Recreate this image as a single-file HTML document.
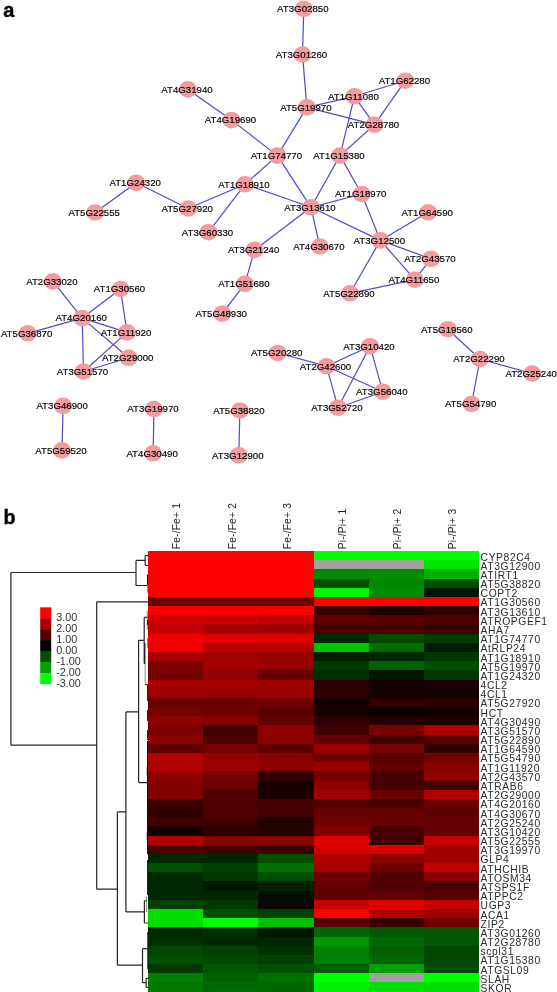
<!DOCTYPE html><html><head><meta charset="utf-8"><style>html,body{margin:0;padding:0;background:#fff;}svg{display:block;will-change:transform;}text{font-family:"Liberation Sans",sans-serif;}</style></head><body>
<svg width="557" height="992" viewBox="0 0 557 992">
<rect width="557" height="992" fill="#fff"/>
<text x="3.2" y="16.6" font-size="20" font-weight="bold" fill="#000" stroke="#000" stroke-width="0.35">a</text>
<text x="3.6" y="523.6" font-size="19.6" font-weight="bold" fill="#000" stroke="#000" stroke-width="0.35">b</text>
<g stroke="#5048cc" stroke-width="1.2" fill="none">
<line x1="303.8" y1="8.8" x2="302.5" y2="54.5"/>
<line x1="302.5" y1="54.5" x2="306.9" y2="107.4"/>
<line x1="306.9" y1="107.4" x2="354.4" y2="96.3"/>
<line x1="306.9" y1="107.4" x2="374.5" y2="124.7"/>
<line x1="306.9" y1="107.4" x2="277.4" y2="155.6"/>
<line x1="354.4" y1="96.3" x2="405.4" y2="80.7"/>
<line x1="354.4" y1="96.3" x2="374.5" y2="124.7"/>
<line x1="354.4" y1="96.3" x2="340" y2="155.6"/>
<line x1="405.4" y1="80.7" x2="374.5" y2="124.7"/>
<line x1="374.5" y1="124.7" x2="340" y2="155.6"/>
<line x1="188" y1="89.4" x2="231.5" y2="120.1"/>
<line x1="231.5" y1="120.1" x2="277.4" y2="155.6"/>
<line x1="277.4" y1="155.6" x2="245" y2="184.3"/>
<line x1="277.4" y1="155.6" x2="311" y2="207.3"/>
<line x1="340" y1="155.6" x2="311" y2="207.3"/>
<line x1="340" y1="155.6" x2="361.7" y2="194"/>
<line x1="245" y1="184.3" x2="311" y2="207.3"/>
<line x1="245" y1="184.3" x2="188.2" y2="208.5"/>
<line x1="245" y1="184.3" x2="208.5" y2="232.2"/>
<line x1="136.2" y1="182.8" x2="95.2" y2="212.5"/>
<line x1="136.2" y1="182.8" x2="188.2" y2="208.5"/>
<line x1="361.7" y1="194" x2="311" y2="207.3"/>
<line x1="361.7" y1="194" x2="380.3" y2="240.4"/>
<line x1="311" y1="207.3" x2="380.3" y2="240.4"/>
<line x1="311" y1="207.3" x2="319.9" y2="246.5"/>
<line x1="311" y1="207.3" x2="254.6" y2="249.9"/>
<line x1="380.3" y1="240.4" x2="428.2" y2="212.3"/>
<line x1="380.3" y1="240.4" x2="431" y2="258.8"/>
<line x1="380.3" y1="240.4" x2="414.9" y2="279.7"/>
<line x1="380.3" y1="240.4" x2="350" y2="293.3"/>
<line x1="431" y1="258.8" x2="414.9" y2="279.7"/>
<line x1="414.9" y1="279.7" x2="350" y2="293.3"/>
<line x1="254.6" y1="249.9" x2="244.9" y2="283.8"/>
<line x1="244.9" y1="283.8" x2="222.2" y2="313.6"/>
<line x1="52.9" y1="281.4" x2="82.2" y2="318.1"/>
<line x1="120.5" y1="289" x2="82.2" y2="318.1"/>
<line x1="120.5" y1="289" x2="127" y2="332.4"/>
<line x1="27.6" y1="333.3" x2="82.2" y2="318.1"/>
<line x1="82.2" y1="318.1" x2="127" y2="332.4"/>
<line x1="82.2" y1="318.1" x2="128.7" y2="357.8"/>
<line x1="82.2" y1="318.1" x2="83.5" y2="371.5"/>
<line x1="127" y1="332.4" x2="83.5" y2="371.5"/>
<line x1="128.7" y1="357.8" x2="83.5" y2="371.5"/>
<line x1="277.7" y1="353" x2="326.5" y2="366.2"/>
<line x1="326.5" y1="366.2" x2="370" y2="346.2"/>
<line x1="326.5" y1="366.2" x2="382.8" y2="391.7"/>
<line x1="326.5" y1="366.2" x2="338" y2="407.7"/>
<line x1="370" y1="346.2" x2="382.8" y2="391.7"/>
<line x1="370" y1="346.2" x2="338" y2="407.7"/>
<line x1="382.8" y1="391.7" x2="338" y2="407.7"/>
<line x1="447.8" y1="329.2" x2="480" y2="359"/>
<line x1="480" y1="359" x2="532.2" y2="373.5"/>
<line x1="480" y1="359" x2="471.6" y2="404"/>
<line x1="63.1" y1="405.9" x2="62" y2="450.4"/>
<line x1="154" y1="409" x2="153.1" y2="453.3"/>
<line x1="239.9" y1="410.5" x2="238.8" y2="455.4"/>
</g>
<g fill="#f39ca0">
<ellipse cx="303.8" cy="8.8" rx="9" ry="8.3"/>
<ellipse cx="302.5" cy="54.5" rx="9" ry="8.3"/>
<ellipse cx="405.4" cy="80.7" rx="9" ry="8.3"/>
<ellipse cx="188" cy="89.4" rx="9" ry="8.3"/>
<ellipse cx="354.4" cy="96.3" rx="9" ry="8.3"/>
<ellipse cx="306.9" cy="107.4" rx="9" ry="8.3"/>
<ellipse cx="374.5" cy="124.7" rx="9" ry="8.3"/>
<ellipse cx="231.5" cy="120.1" rx="9" ry="8.3"/>
<ellipse cx="277.4" cy="155.6" rx="9" ry="8.3"/>
<ellipse cx="340" cy="155.6" rx="9" ry="8.3"/>
<ellipse cx="136.2" cy="182.8" rx="9" ry="8.3"/>
<ellipse cx="245" cy="184.3" rx="9" ry="8.3"/>
<ellipse cx="361.7" cy="194" rx="9" ry="8.3"/>
<ellipse cx="95.2" cy="212.5" rx="9" ry="8.3"/>
<ellipse cx="188.2" cy="208.5" rx="9" ry="8.3"/>
<ellipse cx="311" cy="207.3" rx="9" ry="8.3"/>
<ellipse cx="428.2" cy="212.3" rx="9" ry="8.3"/>
<ellipse cx="208.5" cy="232.2" rx="9" ry="8.3"/>
<ellipse cx="254.6" cy="249.9" rx="9" ry="8.3"/>
<ellipse cx="319.9" cy="246.5" rx="9" ry="8.3"/>
<ellipse cx="380.3" cy="240.4" rx="9" ry="8.3"/>
<ellipse cx="431" cy="258.8" rx="9" ry="8.3"/>
<ellipse cx="414.9" cy="279.7" rx="9" ry="8.3"/>
<ellipse cx="244.9" cy="283.8" rx="9" ry="8.3"/>
<ellipse cx="350" cy="293.3" rx="9" ry="8.3"/>
<ellipse cx="222.2" cy="313.6" rx="9" ry="8.3"/>
<ellipse cx="52.9" cy="281.4" rx="9" ry="8.3"/>
<ellipse cx="120.5" cy="289" rx="9" ry="8.3"/>
<ellipse cx="82.2" cy="318.1" rx="9" ry="8.3"/>
<ellipse cx="27.6" cy="333.3" rx="9" ry="8.3"/>
<ellipse cx="127" cy="332.4" rx="9" ry="8.3"/>
<ellipse cx="128.7" cy="357.8" rx="9" ry="8.3"/>
<ellipse cx="83.5" cy="371.5" rx="9" ry="8.3"/>
<ellipse cx="277.7" cy="353" rx="9" ry="8.3"/>
<ellipse cx="326.5" cy="366.2" rx="9" ry="8.3"/>
<ellipse cx="370" cy="346.2" rx="9" ry="8.3"/>
<ellipse cx="382.8" cy="391.7" rx="9" ry="8.3"/>
<ellipse cx="338" cy="407.7" rx="9" ry="8.3"/>
<ellipse cx="447.8" cy="329.2" rx="9" ry="8.3"/>
<ellipse cx="480" cy="359" rx="9" ry="8.3"/>
<ellipse cx="532.2" cy="373.5" rx="9" ry="8.3"/>
<ellipse cx="471.6" cy="404" rx="9" ry="8.3"/>
<ellipse cx="63.1" cy="405.9" rx="9" ry="8.3"/>
<ellipse cx="62" cy="450.4" rx="9" ry="8.3"/>
<ellipse cx="154" cy="409" rx="9" ry="8.3"/>
<ellipse cx="153.1" cy="453.3" rx="9" ry="8.3"/>
<ellipse cx="239.9" cy="410.5" rx="9" ry="8.3"/>
<ellipse cx="238.8" cy="455.4" rx="9" ry="8.3"/>
</g>
<g font-size="9.4" fill="#000" stroke="#000" stroke-width="0.15" text-anchor="middle">
<text transform="translate(302.8,12.1) scale(1.03,1)">AT3G02850</text>
<text transform="translate(301.5,57.8) scale(1.03,1)">AT3G01260</text>
<text transform="translate(404.4,84.0) scale(1.03,1)">AT1G62280</text>
<text transform="translate(187.0,92.7) scale(1.03,1)">AT4G31940</text>
<text transform="translate(353.4,99.6) scale(1.03,1)">AT1G11080</text>
<text transform="translate(305.9,110.7) scale(1.03,1)">AT5G19970</text>
<text transform="translate(373.5,128.0) scale(1.03,1)">AT2G28780</text>
<text transform="translate(230.5,123.4) scale(1.03,1)">AT4G19690</text>
<text transform="translate(276.4,158.9) scale(1.03,1)">AT1G74770</text>
<text transform="translate(339.0,158.9) scale(1.03,1)">AT1G15380</text>
<text transform="translate(135.2,186.1) scale(1.03,1)">AT1G24320</text>
<text transform="translate(244.0,187.6) scale(1.03,1)">AT1G18910</text>
<text transform="translate(360.7,197.3) scale(1.03,1)">AT1G18970</text>
<text transform="translate(94.2,215.8) scale(1.03,1)">AT5G22555</text>
<text transform="translate(187.2,211.8) scale(1.03,1)">AT5G27920</text>
<text transform="translate(310.0,210.6) scale(1.03,1)">AT3G13610</text>
<text transform="translate(427.2,215.6) scale(1.03,1)">AT1G64590</text>
<text transform="translate(207.5,235.5) scale(1.03,1)">AT3G60330</text>
<text transform="translate(253.6,253.2) scale(1.03,1)">AT3G21240</text>
<text transform="translate(318.9,249.8) scale(1.03,1)">AT4G30670</text>
<text transform="translate(379.3,243.7) scale(1.03,1)">AT3G12500</text>
<text transform="translate(430.0,262.1) scale(1.03,1)">AT2G43570</text>
<text transform="translate(413.9,283.0) scale(1.03,1)">AT4G11650</text>
<text transform="translate(243.9,287.1) scale(1.03,1)">AT1G51680</text>
<text transform="translate(349.0,296.6) scale(1.03,1)">AT5G22890</text>
<text transform="translate(221.2,316.9) scale(1.03,1)">AT5G48930</text>
<text transform="translate(51.9,284.7) scale(1.03,1)">AT2G33020</text>
<text transform="translate(119.5,292.3) scale(1.03,1)">AT1G30560</text>
<text transform="translate(81.2,321.4) scale(1.03,1)">AT4G20160</text>
<text transform="translate(26.6,336.6) scale(1.03,1)">AT5G36870</text>
<text transform="translate(126.0,335.7) scale(1.03,1)">AT1G11920</text>
<text transform="translate(127.7,361.1) scale(1.03,1)">AT2G29000</text>
<text transform="translate(82.5,374.8) scale(1.03,1)">AT3G51570</text>
<text transform="translate(276.7,356.3) scale(1.03,1)">AT5G20280</text>
<text transform="translate(325.5,369.5) scale(1.03,1)">AT2G42600</text>
<text transform="translate(369.0,349.5) scale(1.03,1)">AT3G10420</text>
<text transform="translate(381.8,395.0) scale(1.03,1)">AT3G56040</text>
<text transform="translate(337.0,411.0) scale(1.03,1)">AT3G52720</text>
<text transform="translate(446.8,332.5) scale(1.03,1)">AT5G19560</text>
<text transform="translate(479.0,362.3) scale(1.03,1)">AT2G22290</text>
<text transform="translate(531.2,376.8) scale(1.03,1)">AT2G25240</text>
<text transform="translate(470.6,407.3) scale(1.03,1)">AT5G54790</text>
<text transform="translate(62.1,409.2) scale(1.03,1)">AT3G46900</text>
<text transform="translate(61.0,453.7) scale(1.03,1)">AT5G59520</text>
<text transform="translate(153.0,412.3) scale(1.03,1)">AT3G19970</text>
<text transform="translate(152.1,456.6) scale(1.03,1)">AT4G30490</text>
<text transform="translate(238.9,413.8) scale(1.03,1)">AT5G38820</text>
<text transform="translate(237.8,458.7) scale(1.03,1)">AT3G12900</text>
</g>
<g shape-rendering="crispEdges">
<rect x="148.00" y="551.00" width="55.47" height="9.48" fill="#ff0000"/>
<rect x="203.17" y="551.00" width="55.47" height="9.48" fill="#ff0000"/>
<rect x="258.33" y="551.00" width="55.47" height="9.48" fill="#ff0000"/>
<rect x="313.50" y="551.00" width="55.47" height="9.48" fill="#00ff00"/>
<rect x="368.67" y="551.00" width="55.47" height="9.48" fill="#00ff00"/>
<rect x="423.83" y="551.00" width="55.47" height="9.48" fill="#00ff00"/>
<rect x="148.00" y="560.18" width="55.47" height="9.48" fill="#ff0000"/>
<rect x="203.17" y="560.18" width="55.47" height="9.48" fill="#ff0000"/>
<rect x="258.33" y="560.18" width="55.47" height="9.48" fill="#ff0000"/>
<rect x="313.50" y="560.18" width="55.47" height="9.48" fill="#a0a0a0"/>
<rect x="368.67" y="560.18" width="55.47" height="9.48" fill="#a0a0a0"/>
<rect x="423.83" y="560.18" width="55.47" height="9.48" fill="#00e400"/>
<rect x="148.00" y="569.36" width="55.47" height="9.48" fill="#ff0000"/>
<rect x="203.17" y="569.36" width="55.47" height="9.48" fill="#ff0000"/>
<rect x="258.33" y="569.36" width="55.47" height="9.48" fill="#ff0000"/>
<rect x="313.50" y="569.36" width="55.47" height="9.48" fill="#008800"/>
<rect x="368.67" y="569.36" width="55.47" height="9.48" fill="#008c00"/>
<rect x="423.83" y="569.36" width="55.47" height="9.48" fill="#00b000"/>
<rect x="148.00" y="578.54" width="55.47" height="9.48" fill="#ff0000"/>
<rect x="203.17" y="578.54" width="55.47" height="9.48" fill="#ff0000"/>
<rect x="258.33" y="578.54" width="55.47" height="9.48" fill="#ff0000"/>
<rect x="313.50" y="578.54" width="55.47" height="9.48" fill="#005000"/>
<rect x="368.67" y="578.54" width="55.47" height="9.48" fill="#008800"/>
<rect x="423.83" y="578.54" width="55.47" height="9.48" fill="#005000"/>
<rect x="148.00" y="587.72" width="55.47" height="9.48" fill="#ff0000"/>
<rect x="203.17" y="587.72" width="55.47" height="9.48" fill="#ff0000"/>
<rect x="258.33" y="587.72" width="55.47" height="9.48" fill="#ff0000"/>
<rect x="313.50" y="587.72" width="55.47" height="9.48" fill="#00f800"/>
<rect x="368.67" y="587.72" width="55.47" height="9.48" fill="#008c00"/>
<rect x="423.83" y="587.72" width="55.47" height="9.48" fill="#001800"/>
<rect x="148.00" y="596.90" width="55.47" height="9.48" fill="#6e0000"/>
<rect x="203.17" y="596.90" width="55.47" height="9.48" fill="#6e0000"/>
<rect x="258.33" y="596.90" width="55.47" height="9.48" fill="#6e0000"/>
<rect x="313.50" y="596.90" width="55.47" height="9.48" fill="#ff0000"/>
<rect x="368.67" y="596.90" width="55.47" height="9.48" fill="#ff0000"/>
<rect x="423.83" y="596.90" width="55.47" height="9.48" fill="#ff0000"/>
<rect x="148.00" y="606.08" width="55.47" height="9.48" fill="#fa0000"/>
<rect x="203.17" y="606.08" width="55.47" height="9.48" fill="#fa0000"/>
<rect x="258.33" y="606.08" width="55.47" height="9.48" fill="#fa0000"/>
<rect x="313.50" y="606.08" width="55.47" height="9.48" fill="#380000"/>
<rect x="368.67" y="606.08" width="55.47" height="9.48" fill="#200000"/>
<rect x="423.83" y="606.08" width="55.47" height="9.48" fill="#300000"/>
<rect x="148.00" y="615.26" width="55.47" height="9.48" fill="#d00000"/>
<rect x="203.17" y="615.26" width="55.47" height="9.48" fill="#cc0000"/>
<rect x="258.33" y="615.26" width="55.47" height="9.48" fill="#c00000"/>
<rect x="313.50" y="615.26" width="55.47" height="9.48" fill="#600000"/>
<rect x="368.67" y="615.26" width="55.47" height="9.48" fill="#580000"/>
<rect x="423.83" y="615.26" width="55.47" height="9.48" fill="#4c0000"/>
<rect x="148.00" y="624.44" width="55.47" height="9.48" fill="#c00000"/>
<rect x="203.17" y="624.44" width="55.47" height="9.48" fill="#a80000"/>
<rect x="258.33" y="624.44" width="55.47" height="9.48" fill="#a00000"/>
<rect x="313.50" y="624.44" width="55.47" height="9.48" fill="#480000"/>
<rect x="368.67" y="624.44" width="55.47" height="9.48" fill="#480000"/>
<rect x="423.83" y="624.44" width="55.47" height="9.48" fill="#380000"/>
<rect x="148.00" y="633.62" width="55.47" height="9.48" fill="#f20000"/>
<rect x="203.17" y="633.62" width="55.47" height="9.48" fill="#e40000"/>
<rect x="258.33" y="633.62" width="55.47" height="9.48" fill="#e00000"/>
<rect x="313.50" y="633.62" width="55.47" height="9.48" fill="#002800"/>
<rect x="368.67" y="633.62" width="55.47" height="9.48" fill="#004a00"/>
<rect x="423.83" y="633.62" width="55.47" height="9.48" fill="#003c00"/>
<rect x="148.00" y="642.80" width="55.47" height="9.48" fill="#f00000"/>
<rect x="203.17" y="642.80" width="55.47" height="9.48" fill="#b80000"/>
<rect x="258.33" y="642.80" width="55.47" height="9.48" fill="#b80000"/>
<rect x="313.50" y="642.80" width="55.47" height="9.48" fill="#00c400"/>
<rect x="368.67" y="642.80" width="55.47" height="9.48" fill="#006c00"/>
<rect x="423.83" y="642.80" width="55.47" height="9.48" fill="#001c00"/>
<rect x="148.00" y="651.98" width="55.47" height="9.48" fill="#a80000"/>
<rect x="203.17" y="651.98" width="55.47" height="9.48" fill="#a00000"/>
<rect x="258.33" y="651.98" width="55.47" height="9.48" fill="#980000"/>
<rect x="313.50" y="651.98" width="55.47" height="9.48" fill="#002000"/>
<rect x="368.67" y="651.98" width="55.47" height="9.48" fill="#002800"/>
<rect x="423.83" y="651.98" width="55.47" height="9.48" fill="#003800"/>
<rect x="148.00" y="661.16" width="55.47" height="9.48" fill="#780000"/>
<rect x="203.17" y="661.16" width="55.47" height="9.48" fill="#a40000"/>
<rect x="258.33" y="661.16" width="55.47" height="9.48" fill="#980000"/>
<rect x="313.50" y="661.16" width="55.47" height="9.48" fill="#003800"/>
<rect x="368.67" y="661.16" width="55.47" height="9.48" fill="#006000"/>
<rect x="423.83" y="661.16" width="55.47" height="9.48" fill="#005000"/>
<rect x="148.00" y="670.34" width="55.47" height="9.48" fill="#740000"/>
<rect x="203.17" y="670.34" width="55.47" height="9.48" fill="#940000"/>
<rect x="258.33" y="670.34" width="55.47" height="9.48" fill="#680000"/>
<rect x="313.50" y="670.34" width="55.47" height="9.48" fill="#003000"/>
<rect x="368.67" y="670.34" width="55.47" height="9.48" fill="#001800"/>
<rect x="423.83" y="670.34" width="55.47" height="9.48" fill="#003800"/>
<rect x="148.00" y="679.52" width="55.47" height="9.48" fill="#a80000"/>
<rect x="203.17" y="679.52" width="55.47" height="9.48" fill="#a40000"/>
<rect x="258.33" y="679.52" width="55.47" height="9.48" fill="#a00000"/>
<rect x="313.50" y="679.52" width="55.47" height="9.48" fill="#2a0000"/>
<rect x="368.67" y="679.52" width="55.47" height="9.48" fill="#140000"/>
<rect x="423.83" y="679.52" width="55.47" height="9.48" fill="#1a0000"/>
<rect x="148.00" y="688.70" width="55.47" height="9.48" fill="#9c0000"/>
<rect x="203.17" y="688.70" width="55.47" height="9.48" fill="#940000"/>
<rect x="258.33" y="688.70" width="55.47" height="9.48" fill="#980000"/>
<rect x="313.50" y="688.70" width="55.47" height="9.48" fill="#2a0000"/>
<rect x="368.67" y="688.70" width="55.47" height="9.48" fill="#140000"/>
<rect x="423.83" y="688.70" width="55.47" height="9.48" fill="#140000"/>
<rect x="148.00" y="697.88" width="55.47" height="9.48" fill="#680000"/>
<rect x="203.17" y="697.88" width="55.47" height="9.48" fill="#6c0000"/>
<rect x="258.33" y="697.88" width="55.47" height="9.48" fill="#700000"/>
<rect x="313.50" y="697.88" width="55.47" height="9.48" fill="#140000"/>
<rect x="368.67" y="697.88" width="55.47" height="9.48" fill="#300000"/>
<rect x="423.83" y="697.88" width="55.47" height="9.48" fill="#280000"/>
<rect x="148.00" y="707.06" width="55.47" height="9.48" fill="#740000"/>
<rect x="203.17" y="707.06" width="55.47" height="9.48" fill="#6c0000"/>
<rect x="258.33" y="707.06" width="55.47" height="9.48" fill="#580000"/>
<rect x="313.50" y="707.06" width="55.47" height="9.48" fill="#140000"/>
<rect x="368.67" y="707.06" width="55.47" height="9.48" fill="#100000"/>
<rect x="423.83" y="707.06" width="55.47" height="9.48" fill="#100000"/>
<rect x="148.00" y="716.24" width="55.47" height="9.48" fill="#8c0000"/>
<rect x="203.17" y="716.24" width="55.47" height="9.48" fill="#880000"/>
<rect x="258.33" y="716.24" width="55.47" height="9.48" fill="#600000"/>
<rect x="313.50" y="716.24" width="55.47" height="9.48" fill="#300000"/>
<rect x="368.67" y="716.24" width="55.47" height="9.48" fill="#200000"/>
<rect x="423.83" y="716.24" width="55.47" height="9.48" fill="#200000"/>
<rect x="148.00" y="725.42" width="55.47" height="9.48" fill="#7c0000"/>
<rect x="203.17" y="725.42" width="55.47" height="9.48" fill="#400000"/>
<rect x="258.33" y="725.42" width="55.47" height="9.48" fill="#900000"/>
<rect x="313.50" y="725.42" width="55.47" height="9.48" fill="#400000"/>
<rect x="368.67" y="725.42" width="55.47" height="9.48" fill="#780000"/>
<rect x="423.83" y="725.42" width="55.47" height="9.48" fill="#b00000"/>
<rect x="148.00" y="734.60" width="55.47" height="9.48" fill="#8c0000"/>
<rect x="203.17" y="734.60" width="55.47" height="9.48" fill="#4c0000"/>
<rect x="258.33" y="734.60" width="55.47" height="9.48" fill="#8c0000"/>
<rect x="313.50" y="734.60" width="55.47" height="9.48" fill="#680000"/>
<rect x="368.67" y="734.60" width="55.47" height="9.48" fill="#400000"/>
<rect x="423.83" y="734.60" width="55.47" height="9.48" fill="#580000"/>
<rect x="148.00" y="743.78" width="55.47" height="9.48" fill="#600000"/>
<rect x="203.17" y="743.78" width="55.47" height="9.48" fill="#780000"/>
<rect x="258.33" y="743.78" width="55.47" height="9.48" fill="#600000"/>
<rect x="313.50" y="743.78" width="55.47" height="9.48" fill="#980000"/>
<rect x="368.67" y="743.78" width="55.47" height="9.48" fill="#780000"/>
<rect x="423.83" y="743.78" width="55.47" height="9.48" fill="#300000"/>
<rect x="148.00" y="752.96" width="55.47" height="9.48" fill="#b40000"/>
<rect x="203.17" y="752.96" width="55.47" height="9.48" fill="#980000"/>
<rect x="258.33" y="752.96" width="55.47" height="9.48" fill="#880000"/>
<rect x="313.50" y="752.96" width="55.47" height="9.48" fill="#6c0000"/>
<rect x="368.67" y="752.96" width="55.47" height="9.48" fill="#580000"/>
<rect x="423.83" y="752.96" width="55.47" height="9.48" fill="#740000"/>
<rect x="148.00" y="762.14" width="55.47" height="9.48" fill="#b00000"/>
<rect x="203.17" y="762.14" width="55.47" height="9.48" fill="#9c0000"/>
<rect x="258.33" y="762.14" width="55.47" height="9.48" fill="#8c0000"/>
<rect x="313.50" y="762.14" width="55.47" height="9.48" fill="#980000"/>
<rect x="368.67" y="762.14" width="55.47" height="9.48" fill="#600000"/>
<rect x="423.83" y="762.14" width="55.47" height="9.48" fill="#880000"/>
<rect x="148.00" y="771.32" width="55.47" height="9.48" fill="#900000"/>
<rect x="203.17" y="771.32" width="55.47" height="9.48" fill="#780000"/>
<rect x="258.33" y="771.32" width="55.47" height="9.48" fill="#300000"/>
<rect x="313.50" y="771.32" width="55.47" height="9.48" fill="#780000"/>
<rect x="368.67" y="771.32" width="55.47" height="9.48" fill="#480000"/>
<rect x="423.83" y="771.32" width="55.47" height="9.48" fill="#900000"/>
<rect x="148.00" y="780.50" width="55.47" height="9.48" fill="#800000"/>
<rect x="203.17" y="780.50" width="55.47" height="9.48" fill="#6c0000"/>
<rect x="258.33" y="780.50" width="55.47" height="9.48" fill="#180000"/>
<rect x="313.50" y="780.50" width="55.47" height="9.48" fill="#900000"/>
<rect x="368.67" y="780.50" width="55.47" height="9.48" fill="#480000"/>
<rect x="423.83" y="780.50" width="55.47" height="9.48" fill="#400000"/>
<rect x="148.00" y="789.68" width="55.47" height="9.48" fill="#800000"/>
<rect x="203.17" y="789.68" width="55.47" height="9.48" fill="#500000"/>
<rect x="258.33" y="789.68" width="55.47" height="9.48" fill="#1c0000"/>
<rect x="313.50" y="789.68" width="55.47" height="9.48" fill="#a00000"/>
<rect x="368.67" y="789.68" width="55.47" height="9.48" fill="#680000"/>
<rect x="423.83" y="789.68" width="55.47" height="9.48" fill="#b00000"/>
<rect x="148.00" y="798.86" width="55.47" height="9.48" fill="#3c0000"/>
<rect x="203.17" y="798.86" width="55.47" height="9.48" fill="#500000"/>
<rect x="258.33" y="798.86" width="55.47" height="9.48" fill="#480000"/>
<rect x="313.50" y="798.86" width="55.47" height="9.48" fill="#500000"/>
<rect x="368.67" y="798.86" width="55.47" height="9.48" fill="#440000"/>
<rect x="423.83" y="798.86" width="55.47" height="9.48" fill="#700000"/>
<rect x="148.00" y="808.04" width="55.47" height="9.48" fill="#2c0000"/>
<rect x="203.17" y="808.04" width="55.47" height="9.48" fill="#500000"/>
<rect x="258.33" y="808.04" width="55.47" height="9.48" fill="#440000"/>
<rect x="313.50" y="808.04" width="55.47" height="9.48" fill="#680000"/>
<rect x="368.67" y="808.04" width="55.47" height="9.48" fill="#680000"/>
<rect x="423.83" y="808.04" width="55.47" height="9.48" fill="#580000"/>
<rect x="148.00" y="817.22" width="55.47" height="9.48" fill="#400000"/>
<rect x="203.17" y="817.22" width="55.47" height="9.48" fill="#3c0000"/>
<rect x="258.33" y="817.22" width="55.47" height="9.48" fill="#200000"/>
<rect x="313.50" y="817.22" width="55.47" height="9.48" fill="#700000"/>
<rect x="368.67" y="817.22" width="55.47" height="9.48" fill="#680000"/>
<rect x="423.83" y="817.22" width="55.47" height="9.48" fill="#640000"/>
<rect x="148.00" y="826.40" width="55.47" height="9.48" fill="#140000"/>
<rect x="203.17" y="826.40" width="55.47" height="9.48" fill="#2c0000"/>
<rect x="258.33" y="826.40" width="55.47" height="9.48" fill="#240000"/>
<rect x="313.50" y="826.40" width="55.47" height="9.48" fill="#800000"/>
<rect x="368.67" y="826.40" width="55.47" height="9.48" fill="#480000"/>
<rect x="423.83" y="826.40" width="55.47" height="9.48" fill="#600000"/>
<rect x="148.00" y="835.58" width="55.47" height="9.48" fill="#b00000"/>
<rect x="203.17" y="835.58" width="55.47" height="9.48" fill="#880000"/>
<rect x="258.33" y="835.58" width="55.47" height="9.48" fill="#880000"/>
<rect x="313.50" y="835.58" width="55.47" height="9.48" fill="#e00000"/>
<rect x="368.67" y="835.58" width="55.47" height="9.48" fill="#400000"/>
<rect x="423.83" y="835.58" width="55.47" height="9.48" fill="#c80000"/>
<rect x="148.00" y="844.76" width="55.47" height="9.48" fill="#480000"/>
<rect x="203.17" y="844.76" width="55.47" height="9.48" fill="#400000"/>
<rect x="258.33" y="844.76" width="55.47" height="9.48" fill="#380000"/>
<rect x="313.50" y="844.76" width="55.47" height="9.48" fill="#d00000"/>
<rect x="368.67" y="844.76" width="55.47" height="9.48" fill="#e00000"/>
<rect x="423.83" y="844.76" width="55.47" height="9.48" fill="#a00000"/>
<rect x="148.00" y="853.94" width="55.47" height="9.48" fill="#002800"/>
<rect x="203.17" y="853.94" width="55.47" height="9.48" fill="#002800"/>
<rect x="258.33" y="853.94" width="55.47" height="9.48" fill="#005000"/>
<rect x="313.50" y="853.94" width="55.47" height="9.48" fill="#b00000"/>
<rect x="368.67" y="853.94" width="55.47" height="9.48" fill="#880000"/>
<rect x="423.83" y="853.94" width="55.47" height="9.48" fill="#a00000"/>
<rect x="148.00" y="863.12" width="55.47" height="9.48" fill="#005000"/>
<rect x="203.17" y="863.12" width="55.47" height="9.48" fill="#004000"/>
<rect x="258.33" y="863.12" width="55.47" height="9.48" fill="#007000"/>
<rect x="313.50" y="863.12" width="55.47" height="9.48" fill="#a40000"/>
<rect x="368.67" y="863.12" width="55.47" height="9.48" fill="#700000"/>
<rect x="423.83" y="863.12" width="55.47" height="9.48" fill="#c00000"/>
<rect x="148.00" y="872.30" width="55.47" height="9.48" fill="#002800"/>
<rect x="203.17" y="872.30" width="55.47" height="9.48" fill="#003800"/>
<rect x="258.33" y="872.30" width="55.47" height="9.48" fill="#005000"/>
<rect x="313.50" y="872.30" width="55.47" height="9.48" fill="#700000"/>
<rect x="368.67" y="872.30" width="55.47" height="9.48" fill="#500000"/>
<rect x="423.83" y="872.30" width="55.47" height="9.48" fill="#880000"/>
<rect x="148.00" y="881.48" width="55.47" height="9.48" fill="#002800"/>
<rect x="203.17" y="881.48" width="55.47" height="9.48" fill="#001800"/>
<rect x="258.33" y="881.48" width="55.47" height="9.48" fill="#002000"/>
<rect x="313.50" y="881.48" width="55.47" height="9.48" fill="#600000"/>
<rect x="368.67" y="881.48" width="55.47" height="9.48" fill="#500000"/>
<rect x="423.83" y="881.48" width="55.47" height="9.48" fill="#480000"/>
<rect x="148.00" y="890.66" width="55.47" height="9.48" fill="#002800"/>
<rect x="203.17" y="890.66" width="55.47" height="9.48" fill="#002800"/>
<rect x="258.33" y="890.66" width="55.47" height="9.48" fill="#001000"/>
<rect x="313.50" y="890.66" width="55.47" height="9.48" fill="#600000"/>
<rect x="368.67" y="890.66" width="55.47" height="9.48" fill="#600000"/>
<rect x="423.83" y="890.66" width="55.47" height="9.48" fill="#580000"/>
<rect x="148.00" y="899.84" width="55.47" height="9.48" fill="#004000"/>
<rect x="203.17" y="899.84" width="55.47" height="9.48" fill="#003800"/>
<rect x="258.33" y="899.84" width="55.47" height="9.48" fill="#080808"/>
<rect x="313.50" y="899.84" width="55.47" height="9.48" fill="#c80000"/>
<rect x="368.67" y="899.84" width="55.47" height="9.48" fill="#e00000"/>
<rect x="423.83" y="899.84" width="55.47" height="9.48" fill="#c80000"/>
<rect x="148.00" y="909.02" width="55.47" height="9.48" fill="#00e000"/>
<rect x="203.17" y="909.02" width="55.47" height="9.48" fill="#005000"/>
<rect x="258.33" y="909.02" width="55.47" height="9.48" fill="#004000"/>
<rect x="313.50" y="909.02" width="55.47" height="9.48" fill="#ff0000"/>
<rect x="368.67" y="909.02" width="55.47" height="9.48" fill="#b00000"/>
<rect x="423.83" y="909.02" width="55.47" height="9.48" fill="#a00000"/>
<rect x="148.00" y="918.20" width="55.47" height="9.48" fill="#00e000"/>
<rect x="203.17" y="918.20" width="55.47" height="9.48" fill="#00ff00"/>
<rect x="258.33" y="918.20" width="55.47" height="9.48" fill="#00c000"/>
<rect x="313.50" y="918.20" width="55.47" height="9.48" fill="#580000"/>
<rect x="368.67" y="918.20" width="55.47" height="9.48" fill="#380000"/>
<rect x="423.83" y="918.20" width="55.47" height="9.48" fill="#700000"/>
<rect x="148.00" y="927.38" width="55.47" height="9.48" fill="#002800"/>
<rect x="203.17" y="927.38" width="55.47" height="9.48" fill="#003000"/>
<rect x="258.33" y="927.38" width="55.47" height="9.48" fill="#001800"/>
<rect x="313.50" y="927.38" width="55.47" height="9.48" fill="#006800"/>
<rect x="368.67" y="927.38" width="55.47" height="9.48" fill="#005800"/>
<rect x="423.83" y="927.38" width="55.47" height="9.48" fill="#005800"/>
<rect x="148.00" y="936.56" width="55.47" height="9.48" fill="#003000"/>
<rect x="203.17" y="936.56" width="55.47" height="9.48" fill="#002800"/>
<rect x="258.33" y="936.56" width="55.47" height="9.48" fill="#002800"/>
<rect x="313.50" y="936.56" width="55.47" height="9.48" fill="#009800"/>
<rect x="368.67" y="936.56" width="55.47" height="9.48" fill="#006800"/>
<rect x="423.83" y="936.56" width="55.47" height="9.48" fill="#005800"/>
<rect x="148.00" y="945.74" width="55.47" height="9.48" fill="#004800"/>
<rect x="203.17" y="945.74" width="55.47" height="9.48" fill="#004000"/>
<rect x="258.33" y="945.74" width="55.47" height="9.48" fill="#003000"/>
<rect x="313.50" y="945.74" width="55.47" height="9.48" fill="#008000"/>
<rect x="368.67" y="945.74" width="55.47" height="9.48" fill="#006000"/>
<rect x="423.83" y="945.74" width="55.47" height="9.48" fill="#004800"/>
<rect x="148.00" y="954.92" width="55.47" height="9.48" fill="#005000"/>
<rect x="203.17" y="954.92" width="55.47" height="9.48" fill="#004800"/>
<rect x="258.33" y="954.92" width="55.47" height="9.48" fill="#004000"/>
<rect x="313.50" y="954.92" width="55.47" height="9.48" fill="#008000"/>
<rect x="368.67" y="954.92" width="55.47" height="9.48" fill="#006800"/>
<rect x="423.83" y="954.92" width="55.47" height="9.48" fill="#004800"/>
<rect x="148.00" y="964.10" width="55.47" height="9.48" fill="#003800"/>
<rect x="203.17" y="964.10" width="55.47" height="9.48" fill="#005800"/>
<rect x="258.33" y="964.10" width="55.47" height="9.48" fill="#005000"/>
<rect x="313.50" y="964.10" width="55.47" height="9.48" fill="#006000"/>
<rect x="368.67" y="964.10" width="55.47" height="9.48" fill="#00a000"/>
<rect x="423.83" y="964.10" width="55.47" height="9.48" fill="#004800"/>
<rect x="148.00" y="973.28" width="55.47" height="9.48" fill="#008000"/>
<rect x="203.17" y="973.28" width="55.47" height="9.48" fill="#006000"/>
<rect x="258.33" y="973.28" width="55.47" height="9.48" fill="#007000"/>
<rect x="313.50" y="973.28" width="55.47" height="9.48" fill="#00ff00"/>
<rect x="368.67" y="973.28" width="55.47" height="9.48" fill="#a0a0a0"/>
<rect x="423.83" y="973.28" width="55.47" height="9.48" fill="#00ff00"/>
<rect x="148.00" y="982.46" width="55.47" height="9.48" fill="#007800"/>
<rect x="203.17" y="982.46" width="55.47" height="9.48" fill="#006800"/>
<rect x="258.33" y="982.46" width="55.47" height="9.48" fill="#006800"/>
<rect x="313.50" y="982.46" width="55.47" height="9.48" fill="#00f000"/>
<rect x="368.67" y="982.46" width="55.47" height="9.48" fill="#00e000"/>
<rect x="423.83" y="982.46" width="55.47" height="9.48" fill="#00e000"/>
</g>
<g font-size="10.3" fill="#2a2a2a" letter-spacing="0.6" transform="translate(480.6,0)">
<text x="0" y="560.5">CYP82C4</text>
<text x="0" y="569.7">AT3G12900</text>
<text x="0" y="578.9">ATIRT1</text>
<text x="0" y="588.0">AT5G38820</text>
<text x="0" y="597.2">COPT2</text>
<text x="0" y="606.4">AT1G30560</text>
<text x="0" y="615.6">AT3G13610</text>
<text x="0" y="624.8">ATROPGEF1</text>
<text x="0" y="633.9">AHA7</text>
<text x="0" y="643.1">AT1G74770</text>
<text x="0" y="652.3">AtRLP24</text>
<text x="0" y="661.5">AT1G18910</text>
<text x="0" y="670.6">AT5G19970</text>
<text x="0" y="679.8">AT1G24320</text>
<text x="0" y="689.0">4CL2</text>
<text x="0" y="698.2">4CL1</text>
<text x="0" y="707.4">AT5G27920</text>
<text x="0" y="716.5">HCT</text>
<text x="0" y="725.7">AT4G30490</text>
<text x="0" y="734.9">AT3G51570</text>
<text x="0" y="744.1">AT5G22890</text>
<text x="0" y="753.3">AT1G64590</text>
<text x="0" y="762.4">AT5G54790</text>
<text x="0" y="771.6">AT1G11920</text>
<text x="0" y="780.8">AT2G43570</text>
<text x="0" y="790.0">ATRAB6</text>
<text x="0" y="799.2">AT2G29000</text>
<text x="0" y="808.4">AT4G20160</text>
<text x="0" y="817.5">AT4G30670</text>
<text x="0" y="826.7">AT2G25240</text>
<text x="0" y="835.9">AT3G10420</text>
<text x="0" y="845.1">AT5G22555</text>
<text x="0" y="854.2">AT3G19970</text>
<text x="0" y="863.4">GLP4</text>
<text x="0" y="872.6">ATHCHIB</text>
<text x="0" y="881.8">ATOSM34</text>
<text x="0" y="891.0">ATSPS1F</text>
<text x="0" y="900.1">ATPPC2</text>
<text x="0" y="909.3">UGP3</text>
<text x="0" y="918.5">ACA1</text>
<text x="0" y="927.7">ZIP2</text>
<text x="0" y="936.9">AT3G01260</text>
<text x="0" y="946.0">AT2G28780</text>
<text x="0" y="955.2">scpl31</text>
<text x="0" y="964.4">AT1G15380</text>
<text x="0" y="973.6">ATGSL09</text>
<text x="0" y="982.8">SLAH</text>
<text x="0" y="991.9">SKOR</text>
</g>
<text font-size="10.3" fill="#222" letter-spacing="0.15" transform="translate(180.4,549.2) scale(1.12,1) rotate(-90)">Fe-/Fe+ 1</text>
<text font-size="10.3" fill="#222" letter-spacing="0.15" transform="translate(235.6,549.2) scale(1.12,1) rotate(-90)">Fe-/Fe+ 2</text>
<text font-size="10.3" fill="#222" letter-spacing="0.15" transform="translate(290.7,549.2) scale(1.12,1) rotate(-90)">Fe-/Fe+ 3</text>
<text font-size="10.3" fill="#222" letter-spacing="0.15" transform="translate(345.9,549.2) scale(1.12,1) rotate(-90)">Pi-/Pi+ 1</text>
<text font-size="10.3" fill="#222" letter-spacing="0.15" transform="translate(401.1,549.2) scale(1.12,1) rotate(-90)">Pi-/Pi+ 2</text>
<text font-size="10.3" fill="#222" letter-spacing="0.15" transform="translate(456.2,549.2) scale(1.12,1) rotate(-90)">Pi-/Pi+ 3</text>
<rect x="40.2" y="607.30" width="11" height="11.2" fill="#ff0000"/>
<rect x="40.2" y="618.23" width="11" height="11.2" fill="#a80000"/>
<rect x="40.2" y="629.16" width="11" height="11.2" fill="#500000"/>
<rect x="40.2" y="640.09" width="11" height="11.2" fill="#000000"/>
<rect x="40.2" y="651.02" width="11" height="11.2" fill="#005000"/>
<rect x="40.2" y="661.95" width="11" height="11.2" fill="#00a000"/>
<rect x="40.2" y="672.88" width="11" height="11.2" fill="#00ff00"/>
<g font-size="10.6" fill="#333" transform="translate(56.2,0) scale(1.02,1)">
<text x="0" y="621.5">3.00</text>
<text x="0" y="632.5">2.00</text>
<text x="0" y="643.4">1.00</text>
<text x="0" y="654.4">0.00</text>
<text x="0" y="665.3">-1.00</text>
<text x="0" y="676.2">-2.00</text>
<text x="0" y="687.2">-3.00</text>
</g>
<path d="M147.4,574.0V592.8M147.3,610.9V629.6M145.2,643.0V684.6M147.5,638.4V647.8M147.0,767.0V775.0M147.0,832.0V840.0M146.6,896.3V912.4" stroke="#8a8a8a" stroke-width="1" fill="none"/>
<path d="M147.6,575.0V585.0M147.6,620.0V625.0M144.6,643.0V663.5M147.6,684.6V701.0M147.6,710.0V721.0M147.6,730.0V740.0M147.5,741.0V854.0M147.6,860.0V895.0M147.8,932.0V969.0" stroke="#111" stroke-width="1" fill="none"/>
<path d="M10.9,572.5V745.2M10.9,572.5H136M10.9,745.2H96.7M136,560.4V585.5M136,560.4H145.2M136,585.5H147.2M145.2,555.6V565.5M145.2,555.6H148.2M145.2,565.5H148.2M96.7,601.8V889.2M96.7,601.8H148.2M96.7,889.2H117.4M117.4,811.9V965.2M117.4,811.9H125.9M117.4,965.2H142.5M125.9,711.9V911.9M125.9,711.9H138.6M125.9,911.9H144.4M138.6,640.3V782.6M138.6,640.3H144.2M138.6,782.6H147.3M144.2,617.4V663.5M144.2,617.4H147.2M144.2,663.5H145.2M145.2,684.6H147.5M144.4,900.8V923.0M144.4,900.8H146.5M144.4,923.0H148.2M142.5,948.7V982.6M142.5,948.7H148.2M142.5,982.6H146.1M146.1,978.3V987.3M146.1,978.3H148.2M146.1,987.3H148.2" stroke="#262626" stroke-width="1.2" fill="none"/>
</svg></body></html>
